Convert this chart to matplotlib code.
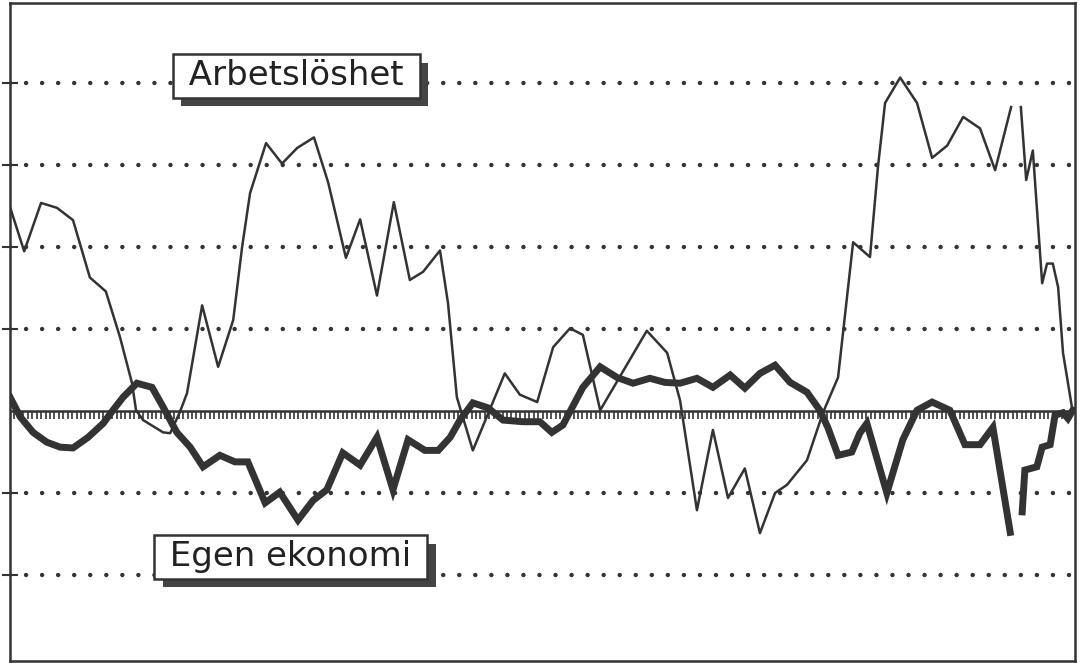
import numpy as np
import matplotlib.pyplot as plt
import matplotlib.patheffects as pe

# Arbetslöshet (tunn linje), månad och värde
arb_man = [0.0, 3.2, 7.0, 10.6, 14.2, 18.0, 21.6, 24.8, 27.5, 28.4, 30.0, 34.5, 36.1, 38.3, 39.9,
           43.3, 46.9, 50.3, 52.3, 54.1, 57.7, 61.3, 64.7, 68.5, 71.7, 75.7, 78.9, 82.7, 86.5,
           90.1, 93.1, 96.9, 98.7, 100.7, 104.3, 111.5, 114.9, 118.8, 122.4, 126.2, 129.1, 133.0,
           143.5, 148.1, 151.0, 154.8, 158.4, 161.8, 165.6, 169.0, 172.4, 175.1, 179.6, 183.2,
           186.6, 190.0, 193.8, 195.6, 197.2, 200.6, 204.4, 207.8, 211.2, 214.8, 218.6, 222.0,
           225.6, 226.7, 227.8, 229.0, 230.5, 232.6, 233.7, 235.0, 236.2, 237.3, 239.3]
arb_val = [2.49, 1.95, 2.54, 2.48, 2.33, 1.63, 1.46, 0.90, 0.34, 0.01, -0.11, -0.26, -0.27, -0.01, 0.22,
           1.29, 0.54, 1.11, 2.00, 2.66, 3.27, 3.02, 3.21, 3.34, 2.79, 1.87, 2.34, 1.41, 2.55,
           1.60, 1.70, 1.96, 1.32, 0.17, -0.48, 0.46, 0.20, 0.11, 0.78, 1.01, 0.93, 0.01,
           0.98, 0.71, 0.13, -1.21, -0.23, -1.06, -0.70, -1.49, -1.00, -0.90, -0.60, -0.02,
           0.41, 2.06, 1.88, 2.98, 3.76, 4.07, 3.76, 3.09, 3.24, 3.59, 3.45, 2.94,
           3.71, np.nan, 3.71, 2.82, 3.18, 1.56, 1.80, 1.80, 1.51, 0.71, 0.05]

# Egen ekonomi (tjock linje)
eko_man = [0, 2.3, 5.2, 8.3, 11.3, 14.2, 17.6, 21.0, 23.2, 25.5, 28.6, 32.0, 34.5, 37.6, 40.6,
           43.5, 47.3, 50.7, 53.6, 57.5, 60.8, 64.9, 68.3, 71.4, 75.0, 78.9, 82.7, 86.3, 89.7,
           93.5, 96.5, 99.2, 101.4, 104.3, 107.7, 111.1, 115.6, 119.4, 122.1, 124.6, 129.1,
           133.0, 136.8, 140.4, 144.2, 147.6, 151.0, 154.8, 158.4, 162.3, 165.6, 169.0, 172.4,
           175.8, 179.6, 182.5, 184.3, 186.6, 189.7, 191.5, 193.1, 197.6, 201.2, 204.4, 207.8,
           211.8, 215.2, 218.6, 221.5, 225.4, 226.7, 228.1, 228.7, 231.4, 232.6, 234.4, 235.5,
           237.3, 238.4, 239.5]
eko_val = [0.17, -0.07, -0.26, -0.38, -0.44, -0.45, -0.32, -0.15, 0.01, 0.17, 0.34, 0.29, 0.05, -0.26, -0.44,
           -0.68, -0.54, -0.62, -0.62, -1.12, -0.99, -1.33, -1.09, -0.96, -0.51, -0.66, -0.32, -0.96, -0.35,
           -0.48, -0.48, -0.32, -0.11, 0.10, 0.04, -0.11, -0.13, -0.13, -0.26, -0.17, 0.29,
           0.54, 0.41, 0.34, 0.40, 0.35, 0.34, 0.40, 0.29, 0.44, 0.28, 0.46, 0.56,
           0.35, 0.23, 0.01, -0.20, -0.54, -0.50, -0.27, -0.15, -1.00, -0.35, 0.01, 0.11,
           0.01, -0.41, -0.41, -0.20, -1.48, np.nan, -1.23, -0.72, -0.68, -0.44, -0.41, -0.05,
           -0.02, -0.09, 0.01]

gridvarden = [-2, -1, 1, 2, 3, 4]
farg = '#333333'

fig = plt.figure(figsize=(10.82, 6.64), dpi=100)
ax = fig.add_axes([10/1082, 3/664, 1065/1082, 658/664])
ax.set_xlim(0, 240)
ax.set_ylim(-3.05, 4.98)

# prickade hjälplinjer
for g in gridvarden:
    ax.axhline(g, color=farg, lw=3.2, linestyle=(0, (0.01, 3.6)), dash_capstyle='round', zorder=1)
ax.axhline(0, color=farg, lw=1.8, zorder=2)

ax.plot(arb_man, arb_val, color=farg, lw=1.8, zorder=3)
ax.plot(eko_man, eko_val, color=farg, lw=5, solid_joinstyle='miter', zorder=4)

# ramen
for s in ax.spines.values():
    s.set_color(farg)
    s.set_linewidth(1.8)
ax.set_xticks([])
ax.set_yticks(gridvarden)
ax.set_yticklabels([])
ax.tick_params(axis='y', direction='inout', length=12, width=1.5, color=farg)

# månadsmarkeringar på nollinjen
nollaxel = ax.secondary_xaxis(3.05 / 8.03)
nollaxel.spines['bottom'].set_visible(False)
nollaxel.set_xticks(np.arange(1, 240))
nollaxel.set_xticklabels([])
nollaxel.tick_params(axis='x', direction='out', length=6, width=1.2, color=farg)

skugga = [pe.withSimplePatchShadow(offset=(6, -6), shadow_rgbFace='#444444', alpha=1)]
etiketter = [(' Arbetslöshet ', 64.5, 4.09), (' Egen ekonomi ', 63.3, -1.78)]
for txt, x, y in etiketter:
    t = ax.text(x, y, txt, fontsize=24.5, color='#222222', ha='center', va='center', zorder=6,
                bbox=dict(boxstyle='square,pad=0.15', fc='white', ec=farg, lw=1.8))
    t.get_bbox_patch().set_path_effects(skugga)

plt.savefig('out.png', dpi=100)
